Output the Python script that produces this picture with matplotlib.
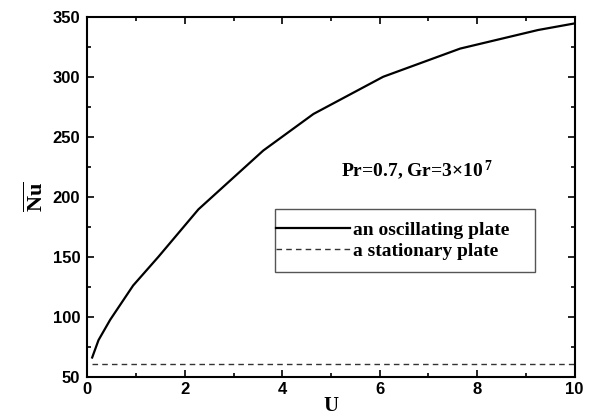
import matplotlib
matplotlib.use("Agg")
import matplotlib.pyplot as plt
from matplotlib.ticker import MultipleLocator
from matplotlib.patches import Rectangle

plt.rcParams['mathtext.fontset'] = 'custom'
plt.rcParams['mathtext.rm'] = 'Liberation Serif:bold'
plt.rcParams['mathtext.bf'] = 'Liberation Serif:bold'
plt.rcParams['mathtext.it'] = 'Liberation Serif:bold'

# Data
U_osc = [0.1, 0.23, 0.47, 0.94, 1.46, 2.28, 3.61, 4.64, 6.07, 7.65, 9.25, 10.0]
Nu_osc = [66, 80.5, 97.5, 126, 150, 189.5, 238.5, 269, 300, 323.5, 339, 344.5]
U_sta = [0.1, 10.0]
Nu_sta = [60.5, 60.5]
xticks = [0, 2, 4, 6, 8, 10]
yticks = [50, 100, 150, 200, 250, 300, 350]

fig = plt.figure(figsize=(5.98, 4.18), dpi=100)
ax = fig.add_axes([0.146, 0.0988, 0.815, 0.861])

ax.plot(U_osc, Nu_osc, color='black', lw=1.6, label='an oscillating plate')
ax.plot(U_sta, Nu_sta, color='#333333', lw=1.0, linestyle=(0, (4, 3)), label='a stationary plate')

ax.set_xlim(0, 10)
ax.set_ylim(50, 350)
ax.set_xticks(xticks)
ax.set_yticks(yticks)
ax.xaxis.set_minor_locator(MultipleLocator(1))
ax.yaxis.set_minor_locator(MultipleLocator(25))
ax.tick_params(which='both', direction='in', top=True, right=True, width=1.2)
ax.tick_params(which='major', length=5)
ax.tick_params(which='minor', length=3)
for s in ax.spines.values():
    s.set_linewidth(1.5)
for lab in ax.get_xticklabels() + ax.get_yticklabels():
    lab.set_fontfamily('Liberation Sans')
    lab.set_fontweight('bold')
    lab.set_fontsize(12)
ax.tick_params(axis='x', pad=4)
ax.tick_params(axis='y', pad=5)

ax.set_xlabel('U', fontfamily='Liberation Serif', fontweight='bold', fontsize=15, labelpad=-1)
ax.set_ylabel(r'$\overline{\mathbf{Nu}}$', fontsize=16, labelpad=4)

ax.text(0.676, 0.575, r'Pr=0.7, Gr=3$\times$10$^{\,7}$', transform=ax.transAxes,
        ha='center', va='center', fontfamily='Liberation Serif', fontweight='bold', fontsize=14)

# legend frame box
ax.add_patch(Rectangle((0.386, 0.292), 0.533, 0.174, transform=ax.transAxes,
                       fill=False, edgecolor='#555555', linewidth=1.0, zorder=5))
leg = ax.legend(loc='center left', bbox_to_anchor=(0.386, 0.378),
                borderaxespad=0, frameon=False, handlelength=3.8,
                handletextpad=0.15, borderpad=0.05, labelspacing=0.2,
                prop={'family': 'Liberation Serif', 'weight': 'bold', 'size': 14})

fig.savefig('out.png', dpi=100)
